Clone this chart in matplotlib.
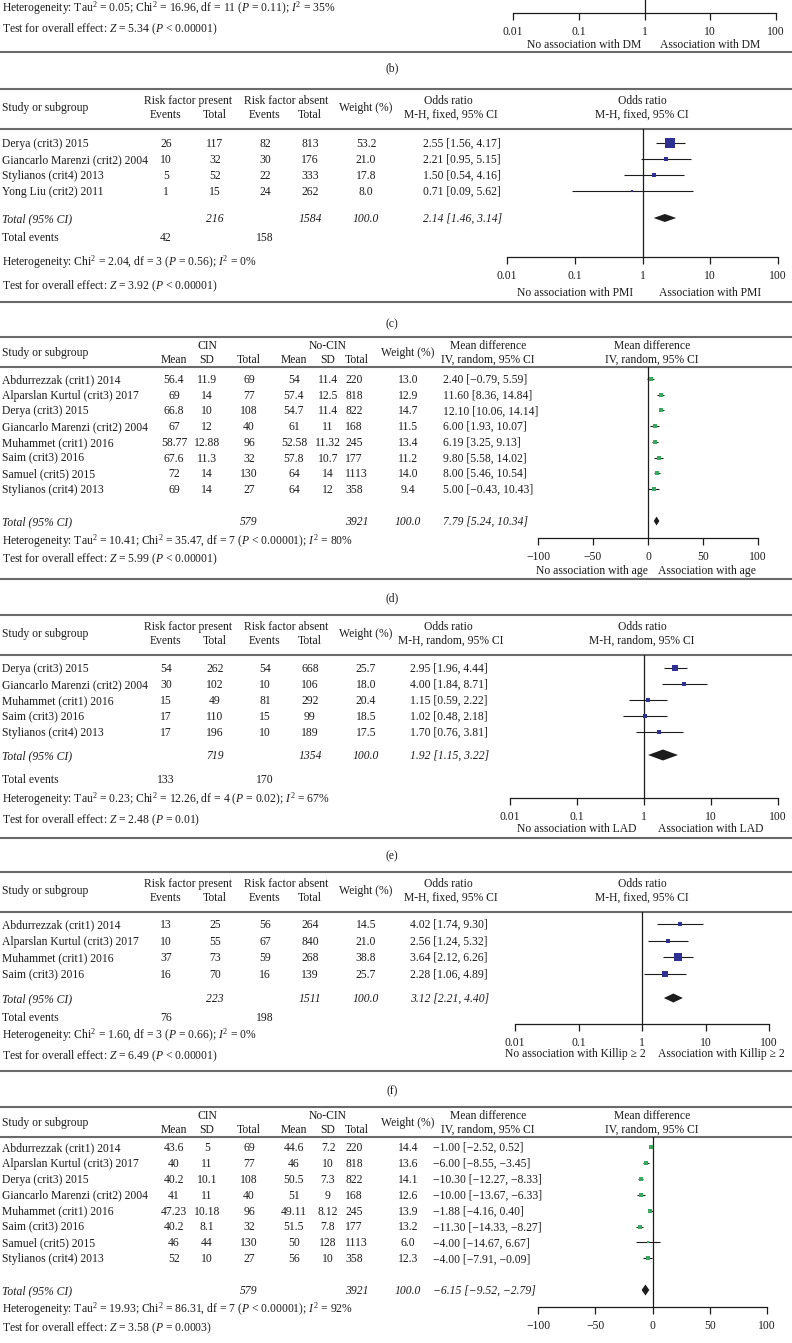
#!/usr/bin/env python3
"""Forest plots (b)-(f) of the CIN risk-factor meta-analysis, redrawn."""

import matplotlib

matplotlib.use("Agg")

import matplotlib.pyplot as plt
from matplotlib.ticker import NullLocator

plt.rcParams["font.family"] = ["Liberation Serif", "DejaVu Serif"]
plt.rcParams["mathtext.fontset"] = "custom"
plt.rcParams["mathtext.rm"] = "Liberation Serif"
plt.rcParams["mathtext.it"] = "Liberation Serif:italic"
plt.rcParams["mathtext.bf"] = "Liberation Serif:bold"

# ---------------- data ----------------
# (b) tail of the DM panel
b_het = r"Heterogeneity: Tau$^2$ = 0.05; Chi$^2$ = 16.96, df = 11 ($P$ = 0.11); $I^2$ = 35%"
b_test = r"Test for overall effect: $Z$ = 5.34 ($P$ < 0.00001)"

# (c) PMI
c_studies = ["Derya (crit3) 2015", "Giancarlo Marenzi (crit2) 2004",
             "Stylianos (crit4) 2013", "Yong Liu (crit2) 2011"]
c_ev_p = [26, 10, 5, 1]
c_tot_p = [117, 32, 52, 15]
c_ev_a = [82, 30, 22, 24]
c_tot_a = [813, 176, 333, 262]
c_weight = [53.2, 21.0, 17.8, 8.0]
c_or = [2.55, 2.21, 1.50, 0.71]
c_lo = [1.56, 0.95, 0.54, 0.09]
c_hi = [4.17, 5.15, 4.16, 5.62]
c_total = (216, 1584, 2.14, 1.46, 3.14)
c_events = (42, 158)
c_het = r"Heterogeneity: Chi$^2$ = 2.04, df = 3 ($P$ = 0.56); $I^2$ = 0%"
c_test = r"Test for overall effect: $Z$ = 3.92 ($P$ < 0.00001)"

# (d) age
d_studies = ["Abdurrezzak (crit1) 2014", "Alparslan Kurtul (crit3) 2017",
             "Derya (crit3) 2015", "Giancarlo Marenzi (crit2) 2004",
             "Muhammet (crit1) 2016", "Saim (crit3) 2016",
             "Samuel (crit5) 2015", "Stylianos (crit4) 2013"]
d_cin_mean = [56.4, 69, 66.8, 67, 58.77, 67.6, 72, 69]
d_cin_sd = [11.9, 14, 10, 12, 12.88, 11.3, 14, 14]
d_cin_n = [69, 77, 108, 40, 96, 32, 130, 27]
d_no_mean = [54, 57.4, 54.7, 61, 52.58, 57.8, 64, 64]
d_no_sd = [11.4, 12.5, 11.4, 11, 11.32, 10.7, 14, 12]
d_no_n = [220, 818, 822, 168, 245, 177, 1113, 358]
d_weight = [13.0, 12.9, 14.7, 11.5, 13.4, 11.2, 14.0, 9.4]
d_md = [2.40, 11.60, 12.10, 6.00, 6.19, 9.80, 8.00, 5.00]
d_lo = [-0.79, 8.36, 10.06, 1.93, 3.25, 5.58, 5.46, -0.43]
d_hi = [5.59, 14.84, 14.14, 10.07, 9.13, 14.02, 10.54, 10.43]
d_total = (579, 3921, 7.79, 5.24, 10.34)
d_het = r"Heterogeneity: Tau$^2$ = 10.41; Chi$^2$ = 35.47, df = 7 ($P$ < 0.00001); $I^2$ = 80%"
d_test = r"Test for overall effect: $Z$ = 5.99 ($P$ < 0.00001)"

# (e) LAD
e_studies = ["Derya (crit3) 2015", "Giancarlo Marenzi (crit2) 2004",
             "Muhammet (crit1) 2016", "Saim (crit3) 2016", "Stylianos (crit4) 2013"]
e_ev_p = [54, 30, 15, 17, 17]
e_tot_p = [262, 102, 49, 110, 196]
e_ev_a = [54, 10, 81, 15, 10]
e_tot_a = [668, 106, 292, 99, 189]
e_weight = [25.7, 18.0, 20.4, 18.5, 17.5]
e_or = [2.95, 4.00, 1.15, 1.02, 1.70]
e_lo = [1.96, 1.84, 0.59, 0.48, 0.76]
e_hi = [4.44, 8.71, 2.22, 2.18, 3.81]
e_total = (719, 1354, 1.92, 1.15, 3.22)
e_events = (133, 170)
e_het = r"Heterogeneity: Tau$^2$ = 0.23; Chi$^2$ = 12.26, df = 4 ($P$ = 0.02); $I^2$ = 67%"
e_test = r"Test for overall effect: $Z$ = 2.48 ($P$ = 0.01)"

# (f) Killip >= 2
f_studies = ["Abdurrezzak (crit1) 2014", "Alparslan Kurtul (crit3) 2017",
             "Muhammet (crit1) 2016", "Saim (crit3) 2016"]
f_ev_p = [13, 10, 37, 16]
f_tot_p = [25, 55, 73, 70]
f_ev_a = [56, 67, 59, 16]
f_tot_a = [264, 840, 268, 139]
f_weight = [14.5, 21.0, 38.8, 25.7]
f_or = [4.02, 2.56, 3.64, 2.28]
f_lo = [1.74, 1.24, 2.12, 1.06]
f_hi = [9.30, 5.32, 6.26, 4.89]
f_total = (223, 1511, 3.12, 2.21, 4.40)
f_events = (76, 198)
f_het = r"Heterogeneity: Chi$^2$ = 1.60, df = 3 ($P$ = 0.66); $I^2$ = 0%"
f_test = r"Test for overall effect: $Z$ = 6.49 ($P$ < 0.00001)"

# (g) last continuous panel
g_studies = d_studies
g_cin_mean = [43.6, 40, 40.2, 41, 47.23, 40.2, 46, 52]
g_cin_sd = [5, 11, 10.1, 11, 10.18, 8.1, 44, 10]
g_cin_n = [69, 77, 108, 40, 96, 32, 130, 27]
g_no_mean = [44.6, 46, 50.5, 51, 49.11, 51.5, 50, 56]
g_no_sd = [7.2, 10, 7.3, 9, 8.12, 7.8, 128, 10]
g_no_n = [220, 818, 822, 168, 245, 177, 1113, 358]
g_weight = [14.4, 13.6, 14.1, 12.6, 13.9, 13.2, 6.0, 12.3]
g_md = [-1.00, -6.00, -10.30, -10.00, -1.88, -11.30, -4.00, -4.00]
g_lo = [-2.52, -8.55, -12.27, -13.67, -4.16, -14.33, -14.67, -7.91]
g_hi = [0.52, -3.45, -8.33, -6.33, 0.40, -8.27, 6.67, -0.09]
g_total = (579, 3921, -6.15, -9.52, -2.79)
g_het = r"Heterogeneity: Tau$^2$ = 19.93; Chi$^2$ = 86.31, df = 7 ($P$ < 0.00001); $I^2$ = 92%"
g_test = r"Test for overall effect: $Z$ = 3.58 ($P$ = 0.0003)"

log_ticks = [0.01, 0.1, 1, 10, 100]
log_labels = ["0.01", "0.1", "1", "10", "100"]
lin_ticks = [-100, -50, 0, 50, 100]
lin_labels = ["\u2212100", "\u221250", "0", "50", "100"]

# ---------------- drawing ----------------
W, H = 792, 1343
FS = 8.4
INK = "#1c1c1c"
RULE = "#6a6a6a"
NAVY = "#2e3192"
GREEN = "#3aa860"

fig = plt.figure(figsize=(W / 100, H / 100), dpi=100)
base = fig.add_axes([0, 0, 1, 1])
base.set_xlim(0, W)
base.set_ylim(H, 0)
base.axis("off")


def put(x, y, s, ha="center", italic=False):
    base.text(x, y + 4, s, ha=ha, va="baseline", fontsize=FS, color=INK,
              style="italic" if italic else "normal")


def rule(y):
    base.hlines(y, 0, W, color=RULE, lw=1.5)


def fmt_ci(est, lo, hi):
    return f"{est:.2f} [{lo:.2f}, {hi:.2f}]".replace("-", "\u2212")


def forest_axes(x0, x1, ytop, yaxis, log):
    ax = fig.add_axes([x0 / W, 1 - yaxis / H, (x1 - x0) / W, (yaxis - ytop) / H])
    if log:
        ax.set_xscale("log")
        ax.set_xlim(0.01, 100)
        ax.set_xticks(log_ticks)
        ax.set_xticklabels(log_labels)
        ref = 1
    else:
        ax.set_xlim(-100, 100)
        ax.set_xticks(lin_ticks)
        ax.set_xticklabels(lin_labels)
        ref = 0
    ax.xaxis.set_minor_locator(NullLocator())
    ax.set_ylim(yaxis, ytop)
    ax.set_yticks([])
    ax.patch.set_visible(False)
    for side in ("top", "left", "right"):
        ax.spines[side].set_visible(False)
    ax.spines["bottom"].set_linewidth(0.9)
    ax.spines["bottom"].set_color(INK)
    ax.tick_params(axis="x", direction="out", length=5, width=0.9, pad=4.5,
                   labelsize=FS, colors=INK)
    ax.axvline(ref, color=INK, lw=0.9)
    return ax


def draw_rows(ax, ys, est, lo, hi, weight, color, k, c0):
    ax.hlines(ys, lo, hi, color=INK, lw=0.8)
    for y, e, w in zip(ys, est, weight):
        side_px = k * w + c0
        ax.plot([e], [y], ls="none", marker="s", ms=side_px * 0.72,
                color=color, mec=color, mew=0)


def draw_diamond(ax, y, est, lo, hi, half):
    ax.fill([lo, est, hi, est], [y, y - half, y, y + half], color=INK, lw=0)


def dich_panel(top, y1, row0, step, studies, ev_p, tot_p, ev_a, tot_a, weight,
               est, lo, hi, total, events, het, test, ci_x, ytot, yev, yhet,
               ytest, fx0, fx1, yaxis, half, method, labels, lab_x, lab_y, bottom):
    rule(top)
    yh = top + 40
    ym = y1 + 7
    y2 = y1 + 14
    put(2, ym, "Study or subgroup", ha="left")
    put(188, y1, "Risk factor present")
    put(286, y1, "Risk factor absent")
    put(166, y2, "Events")
    put(215, y2, "Total")
    put(265, y2, "Events")
    put(310, y2, "Total")
    put(366, ym, "Weight (%)")
    put(448, y1, "Odds ratio")
    put(451, y2, f"M-H, {method}, 95% CI")
    put(642, y1, "Odds ratio")
    put(642, y2, f"M-H, {method}, 95% CI")
    rule(yh)
    ys = [row0 + i * step for i in range(len(studies))]
    for y, name, a, b, c, d, w, e, l, h in zip(ys, studies, ev_p, tot_p, ev_a,
                                               tot_a, weight, est, lo, hi):
        put(2, y, name, ha="left")
        put(166, y, str(a))
        put(215, y, str(b))
        put(265, y, str(c))
        put(310, y, str(d))
        put(366, y, f"{w:.1f}")
        put(ci_x, y, fmt_ci(e, l, h), ha="left")
    put(2, ytot, "Total (95% CI)", ha="left", italic=True)
    put(215, ytot, str(total[0]), italic=True)
    put(310, ytot, str(total[1]), italic=True)
    put(366, ytot, "100.0", italic=True)
    put(ci_x, ytot, fmt_ci(*total[2:]), ha="left", italic=True)
    put(2, yev, "Total events", ha="left")
    put(166, yev, str(events[0]))
    put(265, yev, str(events[1]))
    put(2, yhet, het, ha="left")
    put(2, ytest, test, ha="left")
    ax = forest_axes(fx0, fx1, yh, yaxis, True)
    draw_rows(ax, ys, est, lo, hi, weight, NAVY, 0.155, 1.3)
    draw_diamond(ax, ytot, total[2], total[3], total[4], half)
    put(lab_x[0], lab_y, labels[0])
    put(lab_x[1], lab_y, labels[1])
    rule(bottom)


def cont_panel(top, y1, row0, step, studies, cm, cs, cn, nm, ns, nn, weight,
               est, lo, hi, total, het, test, ci_x, ytot, yhet, ytest,
               fx0, fx1, yaxis, half, labels, lab_x, lab_y):
    rule(top)
    yh = top + 30
    ym = y1 + 7
    y2 = y1 + 14
    put(2, ym, "Study or subgroup", ha="left")
    put(207, y1, "CIN")
    put(328, y1, "No-CIN")
    for x, s in ((174, "Mean"), (207, "SD"), (249, "Total"), (294, "Mean"),
                 (328, "SD")):
        put(x, y2, s)
    put(345, y2, "Total", ha="left")
    put(408, ym, "Weight (%)")
    put(488, y1, "Mean difference")
    put(488, y2, "IV, random, 95% CI")
    put(652, y1, "Mean difference")
    put(652, y2, "IV, random, 95% CI")
    rule(yh)
    ys = [row0 + i * step for i in range(len(studies))]
    for i, y in enumerate(ys):
        put(2, y, studies[i], ha="left")
        put(174, y, f"{cm[i]:g}")
        put(207, y, f"{cs[i]:g}")
        put(249, y, str(cn[i]))
        put(294, y, f"{nm[i]:g}")
        put(328, y, f"{ns[i]:g}")
        put(345, y, str(nn[i]), ha="left")
        put(408, y, f"{weight[i]:.1f}")
        put(ci_x, y, fmt_ci(est[i], lo[i], hi[i]), ha="left")
    put(2, ytot, "Total (95% CI)", ha="left", italic=True)
    put(249, ytot, str(total[0]), italic=True)
    put(345, ytot, str(total[1]), ha="left", italic=True)
    put(408, ytot, "100.0", italic=True)
    put(ci_x, ytot, fmt_ci(*total[2:]), ha="left", italic=True)
    put(2, yhet, het, ha="left")
    put(2, ytest, test, ha="left")
    ax = forest_axes(fx0, fx1, yh, yaxis, False)
    draw_rows(ax, ys, est, lo, hi, weight, GREEN, 0.2, 1.6)
    draw_diamond(ax, ytot, total[2], total[3], total[4], half)
    if labels:
        put(lab_x[0], lab_y, labels[0])
        put(lab_x[1], lab_y, labels[1])


# (b) tail
put(2, 8, b_het, ha="left")
put(2, 28, b_test, ha="left")
forest_axes(513, 776, 0, 13, True)
put(584, 44, "No association with DM")
put(710, 44, "Association with DM")
rule(52)
put(392, 67, "(b)")

# (c)
dich_panel(89, 100, 143, 16, c_studies, c_ev_p, c_tot_p, c_ev_a, c_tot_a,
           c_weight, c_or, c_lo, c_hi, c_total, c_events, c_het, c_test,
           423, 218, 237, 262, 285, 507, 778, 257, 4, "fixed",
           ("No association with PMI", "Association with PMI"), (575, 710), 292, 302)
put(392, 323, "(c)")

# (d)
cont_panel(337, 345, 379, 15.7, d_studies, d_cin_mean, d_cin_sd, d_cin_n,
           d_no_mean, d_no_sd, d_no_n, d_weight, d_md, d_lo, d_hi, d_total,
           d_het, d_test, 443, 521, 541, 558, 538, 758, 538, 4.5,
           ("No association with age", "Association with age"), (592, 707), 570)
rule(579)
put(392, 597, "(d)")

# (e)
dich_panel(615, 626, 668, 16, e_studies, e_ev_p, e_tot_p, e_ev_a, e_tot_a,
           e_weight, e_or, e_lo, e_hi, e_total, e_events, e_het, e_test,
           410, 755, 779, 799, 819, 510, 778, 798, 5.5, "random",
           ("No association with LAD", "Association with LAD"), (577, 711), 828, 838)
put(392, 855, "(e)")

# (f)
dich_panel(872, 883, 924, 16.6, f_studies, f_ev_p, f_tot_p, f_ev_a, f_tot_a,
           f_weight, f_or, f_lo, f_hi, f_total, f_events, f_het, f_test,
           410, 998, 1017, 1035, 1055, 515, 769, 1024, 4.5, "fixed",
           ("No association with Killip \u2265 2", "Association with Killip \u2265 2"),
           (575, 721), 1053, 1071)
put(392, 1090, "(f)")

# (g)
cont_panel(1107, 1115, 1147, 15.9, g_studies, g_cin_mean, g_cin_sd, g_cin_n,
           g_no_mean, g_no_sd, g_no_n, g_weight, g_md, g_lo, g_hi, g_total,
           g_het, g_test, 433, 1290, 1309, 1327, 538, 767, 1307, 5.5,
           None, None, None)

fig.savefig("out.png", dpi=100)
